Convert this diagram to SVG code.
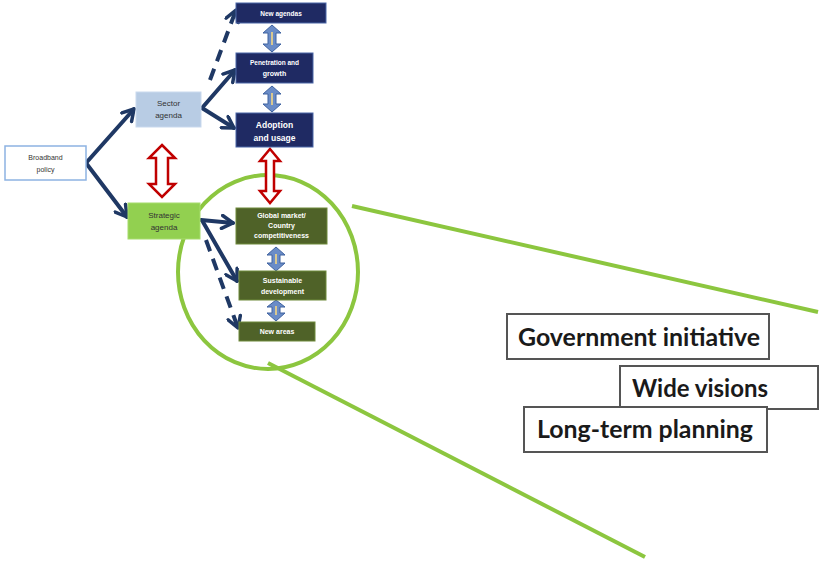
<svg xmlns="http://www.w3.org/2000/svg" width="821" height="562" viewBox="0 0 821 562">
<style>
.nav{fill:#1f2a63;stroke:#4a66a8;stroke-width:1}
.olv{fill:#4f6228;stroke:#6f8a3a;stroke-width:1}
.wt{fill:#ffffff;font-family:"Liberation Sans",Arial,sans-serif;font-weight:bold;text-anchor:middle}
.dk{fill:#333333;font-family:"Liberation Sans",Arial,sans-serif;text-anchor:middle}
.big{fill:#1a1a1a;font-family:Lato,"Open Sans",sans-serif;font-weight:bold;font-size:24px}
.conn{fill:none;stroke:#1f3864;stroke-width:4;stroke-linecap:round}
.dash{stroke-dasharray:12 8;stroke-linecap:butt}
.bda{fill:#6a8cc7;stroke:#3f62a0;stroke-width:1}
.tan{fill:#d9c88f}
.rda{fill:#ffffff;stroke:#c00000;stroke-width:2.5;stroke-linejoin:miter}
.lbox{fill:#ffffff;stroke:#555555;stroke-width:2}
.grn{fill:none;stroke:#8cc63f;stroke-width:4}
</style>
<defs>
<marker id="ah" viewBox="0 0 16 16" refX="13" refY="8" markerWidth="16" markerHeight="16" markerUnits="userSpaceOnUse" orient="auto">
<path d="M2,1.5 L13,8 L2,14.5" fill="none" stroke="#1f3864" stroke-width="3.5" stroke-linecap="round" stroke-linejoin="round"/>
</marker>
</defs>

<g id="zoom-lines">
<ellipse cx="268" cy="272" rx="90" ry="97" class="grn"/>
<line x1="352" y1="206" x2="818" y2="312" class="grn"/>
<line x1="268" y1="363" x2="645" y2="557" class="grn"/>
</g>

<g id="connectors">
<line x1="86" y1="163" x2="134" y2="109" class="conn" marker-end="url(#ah)"/>
<line x1="86" y1="163" x2="127" y2="217" class="conn" marker-end="url(#ah)"/>
<line x1="202" y1="108" x2="235" y2="70" class="conn" marker-end="url(#ah)"/>
<line x1="210" y1="80" x2="236" y2="10" class="conn dash" marker-end="url(#ah)"/>
<line x1="202" y1="108" x2="234" y2="128" class="conn" marker-end="url(#ah)"/>
<line x1="201" y1="220" x2="233" y2="223" class="conn" marker-end="url(#ah)"/>
<line x1="203" y1="222" x2="237" y2="281" class="conn" marker-end="url(#ah)"/>
<line x1="206" y1="240" x2="238" y2="328" class="conn dash" marker-end="url(#ah)"/>
<polygon class="bda" points="272,25 281,33 276,33 276,44 281,44 272,52 263,44 268,44 268,33 263,33"/>
<rect class="tan" x="271" y="32" width="2" height="13"/>
<polygon class="bda" points="272,86 281,94 276,94 276,104 281,104 272,112 263,104 268,104 268,94 263,94"/>
<rect class="tan" x="271" y="93" width="2" height="12"/>
<polygon class="bda" points="276,247 285,255 280,255 280,263 285,263 276,271 267,263 272,263 272,255 267,255"/>
<rect class="tan" x="275" y="254" width="2" height="10"/>
<polygon class="bda" points="276,300 285,307 280,307 280,313 285,313 276,321 267,313 272,313 272,307 267,307"/>
<rect class="tan" x="275" y="306" width="2" height="9"/>
<polygon class="rda" points="162,145 175,158 168,158 168,184 175,184 162,197 149,184 156,184 156,158 149,158"/>
<polygon class="rda" points="270,149 280,161 274,161 274,191 280,191 270,203 260,191 266,191 266,161 260,161"/>
</g>

<g id="broadband-policy">
<rect x="5" y="146" width="81" height="34" fill="#ffffff" stroke="#8db3e2" stroke-width="1.5"/>
<text class="dk" font-size="7" x="45.5" y="160">Broadband</text>
<text class="dk" font-size="7" x="45.5" y="172">policy</text>
</g>
<g id="sector-agenda">
<rect x="136" y="92" width="65" height="35" fill="#b8cce4" stroke="#c9d9ee" stroke-width="1"/>
<text class="dk" font-size="8" x="168.5" y="106">Sector</text>
<text class="dk" font-size="8" x="168.5" y="118">agenda</text>
</g>
<g id="strategic-agenda">
<rect x="128" y="203" width="72" height="36" fill="#92d050" stroke="#a6dc6c" stroke-width="1"/>
<text class="dk" font-size="8" x="164" y="218">Strategic</text>
<text class="dk" font-size="8" x="164" y="230">agenda</text>
</g>
<g id="new-agendas">
<rect class="nav" x="236" y="3" width="90" height="20"/>
<text class="wt" font-size="6.5" x="281" y="16">New agendas</text>
</g>
<g id="penetration-growth">
<rect class="nav" x="236" y="53" width="77" height="30"/>
<text class="wt" font-size="6.5" x="274.5" y="65">Penetration and</text>
<text class="wt" font-size="7" x="274.5" y="76">growth</text>
</g>
<g id="adoption-usage">
<rect class="nav" x="236" y="113" width="77" height="34"/>
<text class="wt" font-size="8.5" x="274.5" y="128">Adoption</text>
<text class="wt" font-size="8.5" x="274.5" y="141">and usage</text>
</g>
<g id="global-market">
<rect class="olv" x="236" y="208" width="91" height="36"/>
<text class="wt" font-size="7" x="281.5" y="218">Global market/</text>
<text class="wt" font-size="7" x="281.5" y="228">Country</text>
<text class="wt" font-size="7" x="281.5" y="238">competitiveness</text>
</g>
<g id="sustainable-development">
<rect class="olv" x="239" y="271" width="87" height="29"/>
<text class="wt" font-size="7" x="282.5" y="283">Sustainable</text>
<text class="wt" font-size="7" x="282.5" y="294">development</text>
</g>
<g id="new-areas">
<rect class="olv" x="239" y="322" width="76" height="19"/>
<text class="wt" font-size="7" x="277" y="334">New areas</text>
</g>

<g id="government-initiative">
<rect class="lbox" x="507" y="314" width="262" height="45"/>
<text class="big" x="518" y="346" textLength="242" lengthAdjust="spacingAndGlyphs">Government initiative</text>
</g>
<g id="wide-visions">
<rect class="lbox" x="620" y="366" width="198" height="43"/>
<text class="big" x="632" y="397" textLength="136" lengthAdjust="spacingAndGlyphs">Wide visions</text>
</g>
<g id="long-term-planning">
<rect class="lbox" x="524" y="407" width="243" height="45"/>
<text class="big" x="537" y="438" textLength="216" lengthAdjust="spacingAndGlyphs">Long-term planning</text>
</g>
</svg>
